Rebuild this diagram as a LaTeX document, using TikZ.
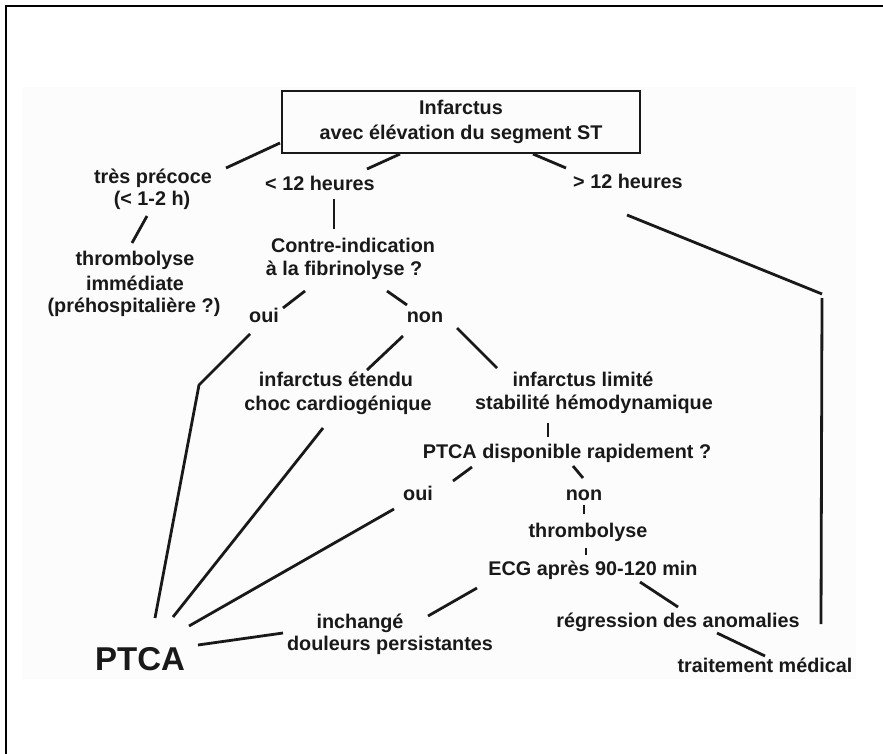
\documentclass[tikz,border=0pt]{standalone}
\usepackage{fontspec}
\setmainfont{Liberation Sans}
\definecolor{ink}{rgb}{0.1,0.1,0.1}
\definecolor{bgpanel}{rgb}{0.988,0.988,0.988}
\begin{document}
\begin{tikzpicture}[x=1pt,y=-1pt,
  lbl/.style={font=\bfseries\fontsize{19.8}{23.5}\selectfont, inner sep=0pt, text=ink, text height=14pt, text depth=4pt},
  big/.style={font=\bfseries\fontsize{33}{38}\selectfont, inner sep=0pt, text=ink, text height=24pt, text depth=0pt},
  conn/.style={line width=2.8pt, draw=ink},
  mainbox/.style={draw=ink, line width=2.8pt, minimum width=358pt, minimum height=62pt, inner sep=0pt, align=center, text=ink, font=\bfseries\fontsize{19.8}{25}\selectfont}
]
\useasboundingbox (0,0) rectangle (883,754);
\fill[bgpanel] (23,87) rectangle (856,679);
\draw[line width=1.8pt, black] (6,754) -- (6,6) -- (883,6);

% nodes
\node[mainbox] (top) at (461,122) {Infarctus\\avec élévation du segment ST};
\node[lbl] (tp1) at (153,179) {très précoce};
\node[lbl] (tp2) at (152,201) {(< 1-2 h)};
\node[lbl] (lt) at (320,185) {< 12 heures};
\node[lbl] (gt) at (628,184) {> 12 heures};
\node[lbl] (th1) at (135,260) {thrombolyse};
\node[lbl] (th2) at (135,285) {immédiate};
\node[lbl] (th3) at (134,307) {(préhospitalière ?)};
\node[lbl] (ci1) at (353,247) {Contre-indication};
\node[lbl] (ci2) at (344,270) {à la fibrinolyse ?};
\node[lbl] (oui1) at (264,317) {oui};
\node[lbl] (non1) at (425,317) {non};
\node[lbl] (ie1) at (336,381) {infarctus étendu};
\node[lbl] (ie2) at (338,405) {choc cardiogénique};
\node[lbl] (il1) at (583,381) {infarctus limité};
\node[lbl] (il2) at (594,404) {stabilité hémodynamique};
\node[lbl] (pd) at (567,453) {PTCA disponible rapidement ?};
\node[lbl] (oui2) at (418,495) {oui};
\node[lbl] (non2) at (584,495) {non};
\node[lbl] (thr) at (588,532) {thrombolyse};
\node[lbl] (ecg) at (593,570) {ECG après 90-120 min};
\node[lbl] (inc) at (360,623) {inchangé};
\node[lbl] (dp) at (390,645) {douleurs persistantes};
\node[lbl] (reg) at (678,622) {régression des anomalies};
\node[lbl] (tm) at (765,667) {traitement médical};
\node[big] (ptca) at (140,658) {PTCA};

% connector end points
\coordinate (a1) at (280,143); \coordinate (b1) at (226,168);
\coordinate (a2) at (400,154); \coordinate (b2) at (367,169);
\coordinate (a3) at (533,154); \coordinate (b3) at (566,168);
\coordinate (a4) at (147,216); \coordinate (b4) at (132,243);
\coordinate (a5) at (334,199); \coordinate (b5) at (334,229);
\coordinate (a6) at (305,291); \coordinate (b6) at (283,308);
\coordinate (a7) at (387,291); \coordinate (b7) at (407,305);
\coordinate (a8) at (250,334); \coordinate (k8) at (199,385); \coordinate (b8) at (155,618);
\coordinate (a9) at (403,336); \coordinate (b9) at (367,370);
\coordinate (a10) at (457,328); \coordinate (b10) at (497,368);
\coordinate (a11) at (323,428); \coordinate (b11) at (173,617);
\coordinate (a12) at (548,423); \coordinate (b12) at (548,437);
\coordinate (a13) at (472,467); \coordinate (b13) at (453,481);
\coordinate (a14) at (573,466); \coordinate (b14) at (583,478);
\coordinate (a15) at (394,509); \coordinate (b15) at (189,626);
\coordinate (a16) at (584,505); \coordinate (b16) at (584,514);
\coordinate (a17) at (586,548); \coordinate (b17) at (586,555);
\coordinate (a18) at (477,588); \coordinate (b18) at (428,616);
\coordinate (a19) at (640,582); \coordinate (b19) at (678,607);
\coordinate (a20) at (717,633); \coordinate (b20) at (765,656);
\coordinate (a21) at (283,633); \coordinate (b21) at (198,645);
\coordinate (a22) at (627,215); \coordinate (k22) at (822,294);
\coordinate (k22b) at (822,298); \coordinate (b22) at (821,624);

% connectors
\draw[conn] (a1) -- (b1);
\draw[conn] (a2) -- (b2);
\draw[conn] (a3) -- (b3);
\draw[conn] (a4) -- (b4);
\draw[conn] (a5) -- (b5);
\draw[conn] (a6) -- (b6);
\draw[conn] (a7) -- (b7);
\draw[conn, line join=round] (a8) -- (k8) -- (b8);
\draw[conn] (a9) -- (b9);
\draw[conn] (a10) -- (b10);
\draw[conn] (a11) -- (b11);
\draw[conn] (a12) -- (b12);
\draw[conn] (a13) -- (b13);
\draw[conn] (a14) -- (b14);
\draw[conn] (a15) -- (b15);
\draw[conn] (a16) -- (b16);
\draw[conn] (a17) -- (b17);
\draw[conn] (a18) -- (b18);
\draw[conn] (a19) -- (b19);
\draw[conn] (a20) -- (b20);
\draw[conn] (a21) -- (b21);
\draw[conn] (a22) -- (k22);
\draw[conn] (k22b) -- (b22);
\end{tikzpicture}
\end{document}
